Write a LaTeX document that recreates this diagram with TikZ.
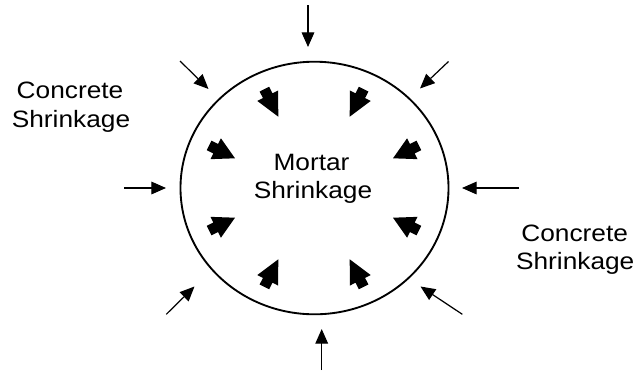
\documentclass[tikz,border=0pt]{standalone}
\usepackage{fontspec}
\setmainfont{Liberation Sans}
\usetikzlibrary{calc,arrows.meta}

% filled block arrow: base middle #1, tip #2
\newcommand\mortararrow[2]{%
  \coordinate (ab) at (#1);
  \coordinate (at) at (#2);
  \coordinate (ae) at ($(ab)!-5.5pt!(at)$);
  \fill ($(ae)!4pt!90:(at)$) -- ($(ab)!4pt!90:(at)$)
        -- ($(ab)!8.75pt!90:(at)$) -- (at)
        -- ($(ab)!8.75pt!-90:(at)$) -- ($(ab)!4pt!-90:(at)$)
        -- ($(ae)!4pt!-90:(at)$) -- cycle;
}

\tikzset{
  push/.style={line width=0.9pt, -{Triangle[length=11pt,width=9.5pt]}},
  lbl/.style={anchor=base, inner sep=0pt, xscale=1.11,
    font=\fontsize{17.75pt}{21pt}\selectfont},
}

\begin{document}
\begin{tikzpicture}[x=0.75pt,y=-0.75pt]
  \useasboundingbox (0,0) rectangle (635,372);

  % specimen outline
  \draw[line width=1.4pt] (314.5,188) ellipse [x radius=134, y radius=126.3];

  % external concrete shrinkage
  \coordinate (t0) at (308,5);     \coordinate (t1) at (308,47);
  \coordinate (b0) at (321.7,370); \coordinate (b1) at (321.7,329);
  \coordinate (l0) at (124,188);   \coordinate (l1) at (166,188);
  \coordinate (r0) at (519,188);   \coordinate (r1) at (462,188);
  \coordinate (ul0) at (180,61);   \coordinate (ul1) at (208.5,89);
  \coordinate (ur0) at (448.5,61.5); \coordinate (ur1) at (420,88.5);
  \coordinate (ll0) at (166.3,314.3); \coordinate (ll1) at (194.5,286.5);
  \coordinate (lr0) at (462.3,314.3); \coordinate (lr1) at (420.5,286.5);
  \foreach \s in {t,b,l,r,ul,ur,ll,lr}
    \draw[push] (\s0) -- (\s1);

  % internal mortar shrinkage
  \mortararrow{267.7,95.7}{278.3,116.7}
  \mortararrow{360.3,95.7}{349.7,116.7}
  \mortararrow{215.7,148.7}{235,158.3}
  \mortararrow{412.3,148.7}{393,158.3}
  \mortararrow{215.7,227.3}{235,217.7}
  \mortararrow{412.3,227.3}{393,217.7}
  \mortararrow{267.7,280.3}{278.3,259.3}
  \mortararrow{360.3,280.3}{349.7,259.3}

  % labels
  \node[lbl] (cl1) at (70,98.5) {Concrete};
  \node[lbl] (cl2) at (71,127) {Shrinkage};
  \node[lbl] (cr1) at (574.7,241) {Concrete};
  \node[lbl] (cr2) at (575.2,269.5) {Shrinkage};
  \node[lbl] (m1) at (311.5,170) {Mortar};
  \node[lbl] (m2) at (313,198.5) {Shrinkage};
\end{tikzpicture}
\end{document}
